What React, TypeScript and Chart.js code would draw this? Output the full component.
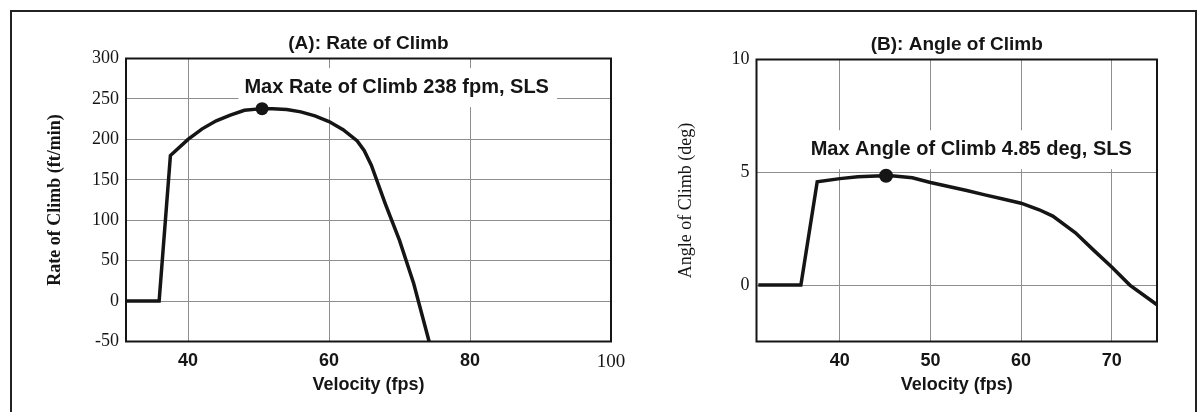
import React, { useEffect, useRef } from "react";
import { Chart, registerables } from "chart.js";

Chart.register(...registerables);

// ---- Data ----
const rocVelocity = [31, 35.9, 37.5, 40, 42, 44, 46, 48, 50.5, 52, 54, 56, 58, 60, 62, 64, 65, 66, 68, 70, 72, 74.2];
const rocValues = [0, 0, 180, 200, 213, 223, 230, 236, 238, 238, 237, 234, 229, 222, 212, 198, 186, 168, 120, 75, 22, -50];
const rocMax = [50.5, 238];
const rocXTicks = [40, 60, 80, 100];
const rocYTicks = [-50, 0, 50, 100, 150, 200, 250, 300];

const aocVelocity = [31, 35.7, 37.5, 40, 42, 44, 45.1, 46, 48, 50, 52, 54, 56, 58, 60, 62, 63.5, 66, 68, 70, 72, 75];
const aocValues = [0, 0, 4.58, 4.72, 4.8, 4.84, 4.85, 4.84, 4.76, 4.55, 4.37, 4.19, 4.0, 3.82, 3.63, 3.34, 3.06, 2.32, 1.55, 0.8, 0.0, -0.87];
const aocMax = [45.1, 4.85];
const aocXTicks = [40, 50, 60, 70];
const aocYTicks = [0, 5, 10];

const SANS = "'Liberation Sans', Arial, sans-serif";
const SERIF = "'Liberation Serif', 'Times New Roman', serif";
const INK = "#151515";
const GRID = "#8e8e8e";

const decor = {
  id: "decor",
  beforeDatasetsDraw(chart: any, _args: any, opts: any) {
    const { ctx, chartArea: a, scales } = chart;
    ctx.save();
    // white box behind annotation
    ctx.font = `bold 20px ${SANS}`;
    const w = ctx.measureText(opts.note).width;
    const cx = scales.x.getPixelForValue(opts.noteAt[0]);
    const cy = scales.y.getPixelForValue(opts.noteAt[1]);
    ctx.fillStyle = "#ffffff";
    ctx.fillRect(cx - w / 2 - 6, cy - 19.5, w + 14, 39);
    // frame
    ctx.strokeStyle = INK;
    ctx.lineWidth = 2;
    ctx.strokeRect(a.left, a.top, a.right - a.left, a.bottom - a.top);
    ctx.restore();
  },
  afterDatasetsDraw(chart: any, _args: any, opts: any) {
    const { ctx, chartArea: a, scales } = chart;
    ctx.save();
    ctx.fillStyle = INK;
    ctx.textAlign = "center";
    ctx.textBaseline = "middle";
    ctx.font = `bold 19px ${SANS}`;
    ctx.fillText(opts.title, (a.left + a.right) / 2, a.top - 15);
    ctx.font = `bold 20px ${SANS}`;
    ctx.fillText(
      opts.note,
      scales.x.getPixelForValue(opts.noteAt[0]),
      scales.y.getPixelForValue(opts.noteAt[1])
    );
    ctx.restore();
  },
};

type Panel = {
  xs: number[];
  ys: number[];
  max: number[];
  xMin: number;
  xMax: number;
  yMin: number;
  yMax: number;
  xTicks: number[];
  yTicks: number[];
  yAxisWidth: number;
  padRight: number;
  padTop: number;
  yTitle: string;
  yTitleBold: boolean;
  title: string;
  note: string;
  noteAt: number[];
  dotR: number;
};

function makeConfig(p: Panel): any {
  return {
    type: "line",
    data: {
      datasets: [
        {
          data: p.xs.map((x, i) => ({ x, y: p.ys[i] })),
          borderColor: INK,
          borderWidth: 3.5,
          pointRadius: 0,
          tension: 0,
          fill: false,
          order: 2,
        },
        {
          data: [{ x: p.max[0], y: p.max[1] }],
          showLine: false,
          pointRadius: p.dotR,
          pointBackgroundColor: INK,
          pointBorderWidth: 0,
          order: 1,
        },
      ],
    },
    options: {
      animation: false,
      responsive: false,
      maintainAspectRatio: false,
      devicePixelRatio: 1,
      layout: { padding: { left: 0, right: p.padRight, top: p.padTop, bottom: 0 } },
      plugins: {
        legend: { display: false },
        tooltip: { enabled: false },
        title: { display: false },
        decor: { title: p.title, note: p.note, noteAt: p.noteAt },
      },
      scales: {
        x: {
          type: "linear",
          min: p.xMin,
          max: p.xMax,
          afterBuildTicks: (s: any) => {
            s.ticks = p.xTicks.map((v) => ({ value: v }));
          },
          afterFit: (s: any) => {
            s.height = 70.5;
            s.paddingLeft = 0;
            s.paddingRight = 0;
          },
          grid: { color: GRID, lineWidth: 1, drawTicks: false },
          border: { display: false },
          ticks: {
            padding: 9,
            color: INK,
            callback: (v: any) => String(v),
            font: (c: any) =>
              c.tick && c.tick.value === 100
                ? { family: SERIF, size: 19 }
                : { family: SANS, size: 18, weight: "bold" },
          },
          title: {
            display: true,
            text: "Velocity (fps)",
            color: INK,
            font: { family: SANS, size: 18, weight: "bold" },
            padding: { top: 0, bottom: 16 },
          },
        },
        y: {
          type: "linear",
          min: p.yMin,
          max: p.yMax,
          afterBuildTicks: (s: any) => {
            s.ticks = p.yTicks.map((v) => ({ value: v }));
          },
          afterFit: (s: any) => {
            s.width = p.yAxisWidth;
            s.paddingTop = 0;
            s.paddingBottom = 0;
          },
          grid: { color: GRID, lineWidth: 1, drawTicks: false },
          border: { display: false },
          ticks: {
            padding: 7,
            color: INK,
            callback: (v: any) => String(v),
            font: { family: SERIF, size: 18 },
          },
          title: {
            display: true,
            text: p.yTitle,
            color: INK,
            font: { family: SERIF, size: 18, weight: p.yTitleBold ? "bold" : "normal" },
            padding: { top: 45, bottom: 0 },
          },
        },
      },
    },
    plugins: [decor],
  };
}

function ChartPanel({ panel, left, width }: { panel: Panel; left: number; width: number }) {
  const ref = useRef<HTMLCanvasElement | null>(null);
  useEffect(() => {
    if (!ref.current) return;
    const chart = new Chart(ref.current, makeConfig(panel));
    return () => chart.destroy();
  }, [panel]);
  return (
    <canvas
      ref={ref}
      width={width}
      height={412}
      style={{ position: "absolute", left, top: 0, width, height: 412 }}
    />
  );
}

const panelA: Panel = {
  xs: rocVelocity,
  ys: rocValues,
  max: rocMax,
  xMin: 31.2,
  xMax: 100,
  yMin: -50,
  yMax: 300,
  xTicks: rocXTicks,
  yTicks: rocYTicks,
  yAxisWidth: 126,
  padRight: 19,
  padTop: 58.5,
  yTitle: "Rate of Climb (ft/min)",
  yTitleBold: true,
  title: "(A): Rate of Climb",
  note: "Max Rate of Climb 238 fpm, SLS",
  noteAt: [69.6, 264],
  dotR: 6.5,
};

const panelB: Panel = {
  xs: aocVelocity,
  ys: aocValues,
  max: aocMax,
  xMin: 30.8,
  xMax: 75,
  yMin: -2.5,
  yMax: 10,
  xTicks: aocXTicks,
  yTicks: aocYTicks,
  yAxisWidth: 126.5,
  padRight: 41,
  padTop: 59.5,
  yTitle: "Angle of Climb (deg)",
  yTitleBold: false,
  title: "(B): Angle of Climb",
  note: "Max Angle of Climb 4.85 deg, SLS",
  noteAt: [54.5, 6.0],
  dotR: 7,
};

export default function App() {
  return (
    <div
      style={{
        position: "absolute",
        left: 0,
        top: 0,
        width: 1198,
        height: 412,
        overflow: "hidden",
        background: "#ffffff",
      }}
    >
      <div
        style={{
          position: "absolute",
          left: 10,
          top: 10,
          width: 1183,
          height: 420,
          borderTop: "2px solid #222",
          borderLeft: "2px solid #222",
          borderRight: "2px solid #222",
        }}
      />
      <ChartPanel panel={panelA} left={0} width={630} />
      <ChartPanel panel={panelB} left={630} width={568} />
    </div>
  );
}
